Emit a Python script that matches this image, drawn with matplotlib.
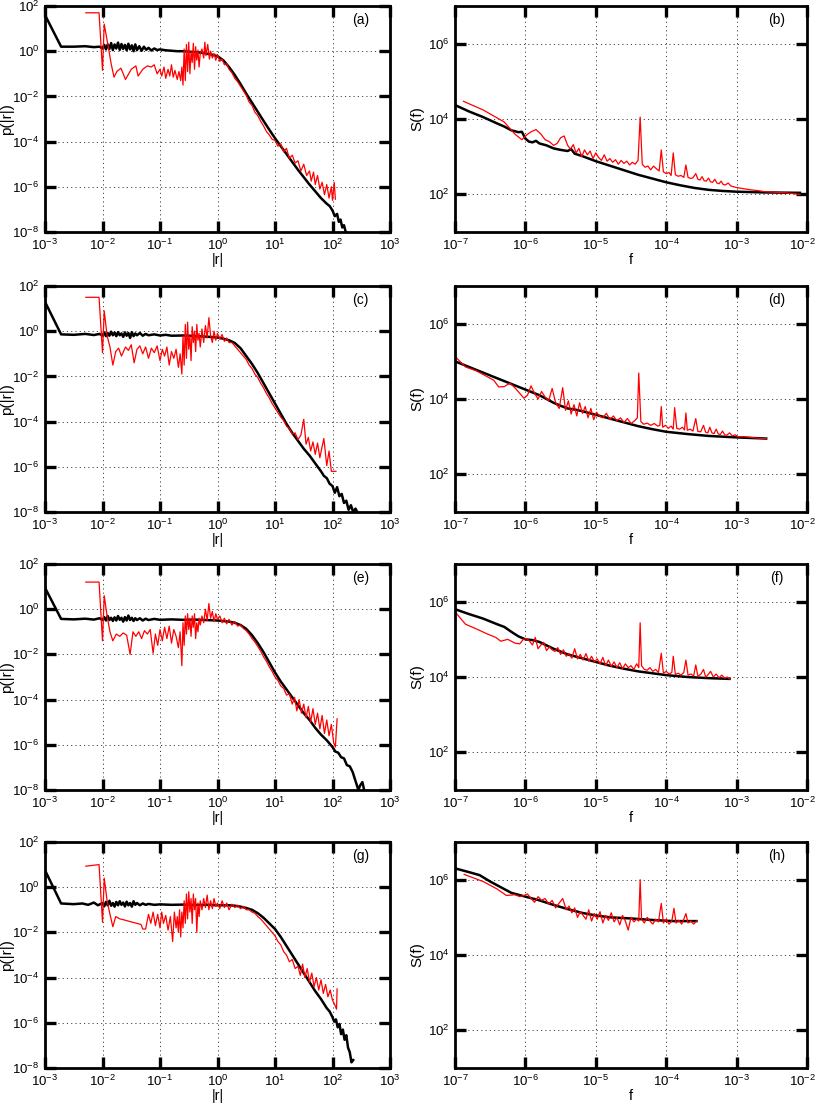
import numpy as np
import matplotlib
matplotlib.use('Agg')
import matplotlib.pyplot as plt
import matplotlib.transforms as mtransforms
from matplotlib.ticker import NullLocator, LogFormatterSciNotation

plt.rcParams['font.family'] = ['Liberation Sans', 'DejaVu Sans']
plt.rcParams['mathtext.default'] = 'regular'
plt.rcParams['font.size'] = 10

# all points are (log10 x, log10 y)

# ---- p(|r|) panels ----
a_black = [(-3.0, 1.6), (-2.72, 0.2), (-2.5, 0.2), (-2.3, 0.22), (-2.15, 0.18), (-2.05, 0.2), (-2.0, 0.12),
           (-1.97, 0.28), (-1.94, 0.08), (-1.91, 0.3), (-1.88, 0.1), (-1.85, 0.36), (-1.82, 0.05), (-1.79, 0.3),
           (-1.76, 0.12), (-1.73, 0.38), (-1.7, 0.06), (-1.67, 0.32), (-1.64, 0.1), (-1.61, 0.28), (-1.58, 0.04),
           (-1.55, 0.33), (-1.52, 0.08), (-1.49, 0.26), (-1.46, 0.0), (-1.43, 0.3), (-1.4, 0.05), (-1.36, 0.22),
           (-1.32, 0.02), (-1.28, 0.2), (-1.24, 0.06), (-1.2, 0.15), (-1.15, 0.03), (-1.1, 0.12), (-1.05, 0.05),
           (-1.0, 0.08), (-0.9, 0.04), (-0.8, 0.02), (-0.7, 0.0), (-0.6, 0.0), (-0.5, -0.02), (-0.4, -0.04),
           (-0.3, -0.06), (-0.2, -0.1), (-0.1, -0.15), (0.0, -0.22), (0.1, -0.4), (0.2, -0.7), (0.3, -1.05),
           (0.4, -1.45), (0.5, -1.88), (0.6, -2.28), (0.7, -2.68), (0.8, -3.08), (0.9, -3.47), (1.0, -3.85),
           (1.2, -4.55), (1.4, -5.25), (1.6, -5.9), (1.8, -6.5), (1.9, -6.75), (1.95, -6.85), (2.0, -7.05),
           (2.04, -7.3), (2.08, -7.2), (2.11, -7.55), (2.14, -7.45), (2.17, -7.8), (2.2, -7.7), (2.23, -8.0)]
a_red = [(-2.29, 1.7), (-2.06, 1.7), (-2.0, -0.85), (-1.97, 1.2), (-1.9, 0.2), (-1.85, -0.55), (-1.8, -1.15),
         (-1.75, -0.9), (-1.68, -0.75), (-1.6, -1.25), (-1.5, -0.8), (-1.42, -0.65), (-1.38, -1.1), (-1.3, -0.8),
         (-1.22, -0.65), (-1.15, -0.7), (-1.1, -0.6), (-1.05, -1.0), (-1.0, -0.8), (-0.97, -1.1), (-0.93, -0.7),
         (-0.9, -1.2), (-0.86, -0.8), (-0.83, -1.1), (-0.8, -0.6), (-0.77, -1.15), (-0.74, -0.85), (-0.7, -1.25),
         (-0.67, -0.9), (-0.64, -1.3), (-0.62, -0.7), (-0.6, -1.5), (-0.58, 0.1), (-0.56, -1.3), (-0.54, 0.3),
         (-0.52, -0.9), (-0.5, 0.4), (-0.48, -1.0), (-0.46, 0.0), (-0.44, -0.5), (-0.42, 0.35), (-0.4, -0.8),
         (-0.38, 0.2), (-0.36, -0.4), (-0.34, 0.05), (-0.32, -0.7), (-0.3, -0.1), (-0.27, 0.1), (-0.24, -0.3),
         (-0.22, 0.4), (-0.2, -0.2), (-0.17, 0.3), (-0.14, -0.35), (-0.12, 0.0), (-0.09, -0.3), (-0.06, -0.1),
         (-0.03, -0.4), (0.0, -0.15), (0.04, -0.45), (0.08, -0.35), (0.12, -0.6), (0.16, -0.55), (0.2, -0.8),
         (0.25, -0.95), (0.3, -1.2), (0.35, -1.35), (0.4, -1.55), (0.45, -1.75), (0.5, -1.95), (0.55, -2.25),
         (0.6, -2.4), (0.65, -2.7), (0.7, -2.85), (0.75, -3.1), (0.8, -3.3), (0.85, -3.55), (0.9, -3.7),
         (0.95, -3.9), (1.0, -3.95), (1.05, -4.2), (1.1, -4.1), (1.15, -4.45), (1.2, -4.3), (1.25, -4.75),
         (1.3, -4.6), (1.35, -4.95), (1.4, -4.85), (1.45, -5.3), (1.5, -5.0), (1.55, -5.5), (1.6, -5.3),
         (1.63, -5.75), (1.67, -5.35), (1.7, -5.9), (1.74, -5.5), (1.78, -6.1), (1.82, -5.8), (1.86, -6.35),
         (1.9, -5.9), (1.94, -6.5), (1.98, -6.0), (2.0, -6.6), (2.03, -5.8), (2.05, -6.55)]

c_black = [(-3.0, 1.3), (-2.72, -0.14), (-2.5, -0.16), (-2.3, -0.12), (-2.15, -0.17), (-2.05, -0.12), (-2.0, -0.2),
           (-1.97, -0.05), (-1.94, -0.22), (-1.91, -0.08), (-1.88, -0.2), (-1.85, -0.02), (-1.82, -0.18),
           (-1.79, -0.06), (-1.76, -0.22), (-1.73, -0.04), (-1.7, -0.18), (-1.67, -0.1), (-1.64, -0.25),
           (-1.61, -0.05), (-1.58, -0.2), (-1.55, -0.08), (-1.52, -0.3), (-1.49, -0.04), (-1.46, -0.22),
           (-1.43, -0.1), (-1.4, -0.18), (-1.35, -0.08), (-1.3, -0.2), (-1.25, -0.12), (-1.2, -0.18), (-1.1, -0.14),
           (-1.0, -0.19), (-0.9, -0.16), (-0.8, -0.2), (-0.6, -0.19), (-0.4, -0.21), (-0.2, -0.24), (0.0, -0.28),
           (0.1, -0.33), (0.2, -0.4), (0.3, -0.52), (0.4, -0.75), (0.5, -1.1), (0.6, -1.45), (0.7, -1.85),
           (0.8, -2.3), (0.9, -2.75), (1.0, -3.2), (1.1, -3.65), (1.2, -4.1), (1.3, -4.5), (1.4, -4.85),
           (1.5, -5.2), (1.6, -5.5), (1.7, -5.85), (1.8, -6.2), (1.85, -6.4), (1.9, -6.5), (1.95, -6.75),
           (2.0, -6.85), (2.04, -7.15), (2.08, -6.9), (2.12, -7.3), (2.16, -7.2), (2.2, -7.6), (2.24, -7.5),
           (2.28, -7.9), (2.32, -7.7), (2.36, -8.0), (2.4, -7.85), (2.43, -8.0)]
c_red = [(-2.29, 1.5), (-2.06, 1.5), (-2.0, -0.95), (-1.97, 0.9), (-1.92, -0.2), (-1.87, -0.7), (-1.82, -1.5),
         (-1.77, -0.9), (-1.72, -0.75), (-1.67, -1.1), (-1.6, -0.7), (-1.55, -0.85), (-1.5, -0.6), (-1.45, -1.4),
         (-1.4, -0.8), (-1.35, -0.65), (-1.3, -1.0), (-1.25, -0.7), (-1.2, -1.2), (-1.15, -0.75), (-1.1, -0.95),
         (-1.05, -0.65), (-1.0, -1.3), (-0.96, -0.8), (-0.92, -1.1), (-0.88, -0.7), (-0.84, -1.5), (-0.8, -0.9),
         (-0.76, -1.2), (-0.72, -0.8), (-0.68, -1.6), (-0.65, -1.0), (-0.62, -1.9), (-0.6, -0.2), (-0.58, -1.5),
         (-0.56, 0.3), (-0.54, -1.2), (-0.52, 0.4), (-0.5, -0.8), (-0.48, -0.2), (-0.46, -1.3), (-0.44, 0.2),
         (-0.42, -0.5), (-0.4, 0.0), (-0.38, -0.9), (-0.36, 0.3), (-0.34, -0.4), (-0.32, -0.1), (-0.3, -0.7),
         (-0.27, 0.1), (-0.24, -0.5), (-0.21, 0.25), (-0.18, -0.3), (-0.15, 0.6), (-0.12, -0.2), (-0.09, -0.5),
         (-0.06, 0.0), (-0.03, -0.4), (0.0, -0.1), (0.04, -0.35), (0.08, -0.15), (0.12, -0.45), (0.16, -0.3),
         (0.2, -0.5), (0.25, -0.5), (0.3, -0.65), (0.35, -0.8), (0.4, -0.95), (0.45, -1.1), (0.5, -1.25),
         (0.55, -1.5), (0.6, -1.65), (0.65, -1.9), (0.7, -2.05), (0.75, -2.3), (0.8, -2.5), (0.85, -2.75),
         (0.9, -2.95), (0.95, -3.2), (1.0, -3.4), (1.05, -3.6), (1.1, -3.8), (1.15, -3.95), (1.2, -4.2),
         (1.25, -4.3), (1.3, -4.55), (1.35, -4.5), (1.4, -4.8), (1.45, -4.6), (1.5, -3.9), (1.54, -5.0),
         (1.58, -4.7), (1.62, -5.3), (1.66, -4.9), (1.7, -5.45), (1.74, -4.95), (1.78, -5.6), (1.82, -5.1),
         (1.85, -4.75), (1.9, -5.95), (1.94, -5.3), (1.98, -6.2), (2.02, -6.2), (2.06, -6.2)]

e_black = [(-3.0, 0.95), (-2.72, -0.43), (-2.5, -0.45), (-2.3, -0.42), (-2.15, -0.46), (-2.05, -0.4), (-2.0, -0.48),
           (-1.97, -0.35), (-1.94, -0.5), (-1.91, -0.3), (-1.88, -0.48), (-1.85, -0.38), (-1.82, -0.52),
           (-1.79, -0.36), (-1.76, -0.5), (-1.73, -0.3), (-1.7, -0.47), (-1.67, -0.38), (-1.64, -0.55),
           (-1.61, -0.35), (-1.58, -0.5), (-1.55, -0.28), (-1.52, -0.48), (-1.49, -0.38), (-1.46, -0.52),
           (-1.43, -0.4), (-1.4, -0.48), (-1.35, -0.4), (-1.3, -0.5), (-1.25, -0.42), (-1.2, -0.48), (-1.1, -0.43),
           (-1.0, -0.47), (-0.8, -0.45), (-0.6, -0.47), (-0.4, -0.46), (-0.2, -0.48), (0.0, -0.5), (0.2, -0.55),
           (0.3, -0.6), (0.4, -0.7), (0.5, -0.87), (0.6, -1.15), (0.7, -1.5), (0.8, -1.9), (0.9, -2.35),
           (1.0, -2.8), (1.1, -3.2), (1.2, -3.55), (1.3, -3.9), (1.4, -4.25), (1.5, -4.6), (1.6, -4.9),
           (1.7, -5.25), (1.8, -5.55), (1.9, -5.8), (1.95, -5.95), (2.0, -6.1), (2.05, -6.3), (2.1, -6.35),
           (2.15, -6.55), (2.2, -6.6), (2.25, -6.9), (2.3, -6.95), (2.35, -7.2), (2.4, -7.6), (2.45, -8.0),
           (2.48, -7.8), (2.52, -7.65), (2.55, -8.0)]
e_red = [(-2.29, 1.2), (-2.06, 1.2), (-2.0, -1.4), (-1.97, 0.6), (-1.92, -0.3), (-1.87, -1.0), (-1.82, -1.4),
         (-1.76, -1.1), (-1.7, -1.2), (-1.64, -1.05), (-1.58, -1.15), (-1.52, -2.0), (-1.47, -1.0), (-1.42, -1.2),
         (-1.37, -1.0), (-1.32, -1.3), (-1.27, -0.95), (-1.22, -1.1), (-1.17, -0.9), (-1.12, -1.95),
         (-1.08, -1.1), (-1.04, -1.6), (-1.0, -0.9), (-0.96, -1.4), (-0.92, -0.8), (-0.88, -1.3), (-0.84, -0.75),
         (-0.8, -1.5), (-0.76, -0.9), (-0.72, -1.2), (-0.68, -1.7), (-0.65, -1.0), (-0.62, -2.5), (-0.6, -0.6),
         (-0.58, -1.6), (-0.56, -0.3), (-0.54, -1.1), (-0.52, -0.2), (-0.5, -0.9), (-0.48, -0.4), (-0.46, -1.2),
         (-0.44, -0.3), (-0.42, -0.8), (-0.4, -0.2), (-0.38, -1.3), (-0.36, -0.6), (-0.34, -1.0), (-0.32, -0.4),
         (-0.3, -0.7), (-0.27, -0.3), (-0.24, -0.6), (-0.21, 0.0), (-0.18, -0.5), (-0.15, 0.25), (-0.12, -0.4),
         (-0.09, -0.1), (-0.06, -0.55), (-0.03, -0.2), (0.0, -0.45), (0.04, -0.3), (0.08, -0.6), (0.12, -0.4),
         (0.16, -0.65), (0.2, -0.45), (0.25, -0.7), (0.3, -0.55), (0.35, -0.75), (0.4, -0.7), (0.45, -0.85),
         (0.5, -0.95), (0.55, -1.1), (0.6, -1.3), (0.65, -1.45), (0.7, -1.65), (0.75, -1.85), (0.8, -2.1),
         (0.85, -2.3), (0.9, -2.55), (0.95, -2.75), (1.0, -3.0), (1.05, -3.15), (1.1, -3.4), (1.15, -3.5),
         (1.2, -3.8), (1.25, -3.75), (1.3, -4.2), (1.34, -3.9), (1.38, -4.5), (1.42, -4.0), (1.46, -4.6),
         (1.5, -4.2), (1.54, -4.8), (1.58, -4.3), (1.62, -5.0), (1.66, -4.4), (1.7, -5.1), (1.74, -4.6),
         (1.78, -5.3), (1.82, -4.7), (1.86, -5.5), (1.9, -4.9), (1.94, -5.6), (1.98, -5.1), (2.02, -5.9),
         (2.05, -6.1), (2.08, -4.85)]

g_black = [(-3.0, 0.75), (-2.72, -0.72), (-2.5, -0.75), (-2.35, -0.72), (-2.25, -0.78), (-2.15, -0.68),
           (-2.08, -0.8), (-2.0, -0.7), (-1.97, -0.85), (-1.94, -0.65), (-1.91, -0.8), (-1.88, -0.6),
           (-1.85, -0.82), (-1.82, -0.7), (-1.79, -0.86), (-1.76, -0.65), (-1.73, -0.8), (-1.7, -0.62),
           (-1.67, -0.78), (-1.64, -0.68), (-1.61, -0.85), (-1.58, -0.64), (-1.55, -0.8), (-1.52, -0.7),
           (-1.49, -0.86), (-1.46, -0.62), (-1.43, -0.78), (-1.4, -0.7), (-1.35, -0.8), (-1.3, -0.72),
           (-1.25, -0.78), (-1.2, -0.74), (-1.1, -0.78), (-1.0, -0.76), (-0.8, -0.78), (-0.6, -0.77),
           (-0.4, -0.79), (-0.2, -0.78), (0.0, -0.8), (0.2, -0.8), (0.3, -0.82), (0.4, -0.86), (0.5, -0.92),
           (0.6, -1.0), (0.7, -1.15), (0.8, -1.35), (0.9, -1.6), (1.0, -1.85), (1.1, -2.2), (1.2, -2.6),
           (1.3, -3.0), (1.4, -3.4), (1.5, -3.8), (1.6, -4.2), (1.7, -4.6), (1.8, -4.95), (1.9, -5.35),
           (1.95, -5.5), (2.0, -5.75), (2.03, -5.95), (2.06, -5.85), (2.09, -6.2), (2.12, -6.05), (2.15, -6.5),
           (2.18, -6.3), (2.21, -6.75), (2.24, -6.55), (2.27, -7.1), (2.3, -7.3), (2.33, -7.75), (2.36, -7.65)]
g_red = [(-2.29, 0.93), (-2.06, 1.0), (-2.0, -1.55), (-1.97, 0.4), (-1.92, -0.6), (-1.87, -1.2), (-1.82, -1.75),
         (-1.77, -1.3), (-1.7, -1.4), (-1.62, -1.45), (-1.55, -1.5), (-1.48, -1.55), (-1.4, -1.6), (-1.33, -1.65),
         (-1.3, -1.85), (-1.25, -1.85), (-1.2, -1.2), (-1.16, -1.6), (-1.12, -1.1), (-1.08, -1.7), (-1.04, -1.2),
         (-1.0, -1.8), (-0.97, -1.1), (-0.94, -1.6), (-0.9, -1.25), (-0.86, -1.9), (-0.82, -1.3), (-0.78, -2.4),
         (-0.75, -1.1), (-0.72, -1.8), (-0.7, -1.3), (-0.68, -2.0), (-0.66, -1.0), (-0.64, -2.2), (-0.62, -1.1),
         (-0.6, -1.8), (-0.58, -0.6), (-0.56, -1.6), (-0.54, -0.3), (-0.52, -1.4), (-0.5, -0.2), (-0.48, -1.1),
         (-0.46, -0.5), (-0.44, -1.6), (-0.42, -0.3), (-0.4, -1.0), (-0.38, -0.5), (-0.36, -2.0), (-0.34, -0.7),
         (-0.32, -1.3), (-0.3, -0.6), (-0.27, -1.0), (-0.24, -0.5), (-0.21, -0.9), (-0.18, -0.35), (-0.15, -1.0),
         (-0.12, -0.6), (-0.09, -0.95), (-0.06, -0.5), (-0.03, -0.85), (0.0, -0.7), (0.04, -0.95), (0.08, -0.6),
         (0.12, -0.9), (0.16, -0.7), (0.2, -1.0), (0.25, -0.75), (0.3, -0.9), (0.35, -0.8), (0.4, -0.95),
         (0.45, -0.85), (0.5, -1.0), (0.55, -1.0), (0.6, -1.1), (0.65, -1.15), (0.7, -1.3), (0.75, -1.4),
         (0.8, -1.55), (0.85, -1.7), (0.9, -1.85), (0.95, -2.0), (1.0, -2.15), (1.05, -2.4), (1.1, -2.55),
         (1.15, -2.85), (1.2, -3.0), (1.25, -3.3), (1.3, -3.2), (1.35, -3.6), (1.4, -3.5), (1.44, -3.9),
         (1.48, -3.4), (1.52, -4.0), (1.56, -3.6), (1.6, -4.2), (1.64, -3.8), (1.68, -4.4), (1.72, -4.0),
         (1.76, -4.55), (1.8, -4.1), (1.84, -4.7), (1.88, -4.3), (1.92, -4.85), (1.96, -4.55), (2.0, -5.0),
         (2.04, -5.2), (2.07, -5.4), (2.08, -4.5)]

# ---- S(f) panels ----
b_black = [(-7.0, 4.37), (-6.8, 4.2), (-6.6, 4.05), (-6.4, 3.88), (-6.3, 3.8), (-6.2, 3.7), (-6.1, 3.65),
           (-6.05, 3.66), (-6.0, 3.48), (-5.95, 3.4), (-5.9, 3.38), (-5.85, 3.42), (-5.8, 3.35), (-5.7, 3.3),
           (-5.6, 3.22), (-5.5, 3.18), (-5.4, 3.15), (-5.35, 3.2), (-5.3, 3.08), (-5.2, 3.02), (-5.1, 2.95),
           (-5.0, 2.88), (-4.8, 2.76), (-4.6, 2.64), (-4.4, 2.52), (-4.2, 2.42), (-4.0, 2.32), (-3.8, 2.24),
           (-3.6, 2.17), (-3.4, 2.12), (-3.2, 2.09), (-3.0, 2.07), (-2.6, 2.05), (-2.1, 2.04)]
b_red = [(-6.88, 4.47), (-6.6, 4.24), (-6.3, 3.92), (-6.15, 3.6), (-6.05, 3.45), (-5.98, 3.58), (-5.92, 3.66),
         (-5.85, 3.72), (-5.78, 3.6), (-5.72, 3.45), (-5.66, 3.4), (-5.6, 3.3), (-5.55, 3.35), (-5.5, 3.5),
         (-5.45, 3.55), (-5.4, 3.3), (-5.36, 3.2), (-5.32, 3.32), (-5.28, 3.1), (-5.24, 3.22), (-5.2, 3.0),
         (-5.16, 3.18), (-5.12, 3.05), (-5.08, 3.15), (-5.04, 2.95), (-5.0, 3.1), (-4.96, 2.98), (-4.92, 2.9),
         (-4.88, 3.05), (-4.84, 2.88), (-4.8, 2.95), (-4.76, 2.85), (-4.72, 2.92), (-4.68, 2.8), (-4.64, 2.9),
         (-4.6, 2.82), (-4.56, 2.88), (-4.52, 2.78), (-4.48, 2.85), (-4.44, 2.8), (-4.4, 2.9), (-4.37, 4.05),
         (-4.34, 2.8), (-4.3, 2.72), (-4.26, 2.75), (-4.22, 2.65), (-4.18, 2.75), (-4.14, 2.68), (-4.1, 2.62),
         (-4.07, 3.18), (-4.04, 2.6), (-4.0, 2.55), (-3.96, 2.58), (-3.93, 2.5), (-3.9, 3.1), (-3.87, 2.52),
         (-3.83, 2.48), (-3.79, 2.5), (-3.75, 2.45), (-3.72, 2.78), (-3.69, 2.45), (-3.65, 2.42), (-3.62, 2.44),
         (-3.58, 2.55), (-3.55, 2.4), (-3.52, 2.38), (-3.49, 2.47), (-3.46, 2.36), (-3.43, 2.35), (-3.4, 2.43),
         (-3.37, 2.33), (-3.34, 2.32), (-3.31, 2.4), (-3.28, 2.3), (-3.25, 2.28), (-3.22, 2.35), (-3.19, 2.26),
         (-3.16, 2.25), (-3.12, 2.3), (-3.08, 2.22), (-3.04, 2.2), (-3.0, 2.18), (-2.9, 2.15), (-2.8, 2.12),
         (-2.7, 2.1), (-2.6, 2.07), (-2.5, 2.06), (-2.4, 2.05), (-2.3, 2.04), (-2.2, 2.02), (-2.1, 2.0)]

d_black = [(-7.0, 5.0), (-6.8, 4.85), (-6.6, 4.7), (-6.4, 4.55), (-6.2, 4.4), (-6.0, 4.25), (-5.8, 4.1),
           (-5.6, 3.9), (-5.5, 3.82), (-5.4, 3.75), (-5.3, 3.72), (-5.2, 3.68), (-5.0, 3.58), (-4.8, 3.48),
           (-4.6, 3.38), (-4.4, 3.28), (-4.2, 3.2), (-4.0, 3.13), (-3.7, 3.07), (-3.4, 3.02), (-3.0, 2.98),
           (-2.58, 2.95)]
d_red = [(-7.0, 5.13), (-6.85, 4.85), (-6.7, 4.75), (-6.55, 4.6), (-6.45, 4.5), (-6.38, 4.32), (-6.3, 4.33),
         (-6.22, 4.42), (-6.15, 4.3), (-6.08, 4.15), (-6.02, 4.02), (-5.97, 4.1), (-5.92, 4.35), (-5.87, 4.15),
         (-5.82, 4.0), (-5.77, 4.2), (-5.72, 4.05), (-5.67, 3.95), (-5.62, 4.28), (-5.57, 3.9), (-5.52, 3.75),
         (-5.47, 4.3), (-5.43, 3.7), (-5.39, 3.95), (-5.35, 3.6), (-5.31, 3.85), (-5.27, 3.55), (-5.23, 3.9),
         (-5.19, 3.62), (-5.15, 3.8), (-5.11, 3.5), (-5.07, 3.75), (-5.03, 3.45), (-4.99, 3.65), (-4.95, 3.55),
         (-4.9, 3.5), (-4.85, 3.62), (-4.8, 3.45), (-4.75, 3.55), (-4.7, 3.42), (-4.65, 3.5), (-4.6, 3.38),
         (-4.55, 3.48), (-4.5, 3.35), (-4.45, 3.42), (-4.41, 3.5), (-4.39, 4.69), (-4.36, 3.4), (-4.32, 3.33),
         (-4.27, 3.36), (-4.22, 3.3), (-4.17, 3.35), (-4.12, 3.28), (-4.09, 3.3), (-4.07, 3.8), (-4.05, 3.25),
         (-4.01, 3.3), (-3.97, 3.22), (-3.93, 3.28), (-3.9, 3.2), (-3.88, 3.77), (-3.85, 3.22), (-3.81, 3.2),
         (-3.77, 3.25), (-3.74, 3.18), (-3.72, 3.63), (-3.7, 3.17), (-3.66, 3.2), (-3.62, 3.15), (-3.58, 3.48),
         (-3.55, 3.14), (-3.51, 3.13), (-3.47, 3.3), (-3.44, 3.12), (-3.41, 3.1), (-3.38, 3.25), (-3.35, 3.1),
         (-3.32, 3.08), (-3.29, 3.2), (-3.26, 3.07), (-3.23, 3.06), (-3.2, 3.15), (-3.17, 3.05), (-3.14, 3.04),
         (-3.1, 3.1), (-3.06, 3.02), (-3.02, 3.05), (-2.98, 3.0), (-2.9, 3.0), (-2.8, 2.98), (-2.7, 2.96),
         (-2.58, 2.95)]

f_black = [(-7.0, 5.8), (-6.8, 5.67), (-6.6, 5.55), (-6.4, 5.4), (-6.3, 5.33), (-6.2, 5.2), (-6.1, 5.08),
           (-6.0, 5.0), (-5.9, 4.98), (-5.8, 4.93), (-5.6, 4.75), (-5.4, 4.6), (-5.2, 4.5), (-5.0, 4.4),
           (-4.8, 4.3), (-4.6, 4.22), (-4.4, 4.15), (-4.2, 4.1), (-4.0, 4.05), (-3.7, 4.0), (-3.4, 3.97),
           (-3.1, 3.95)]
f_red = [(-7.0, 5.73), (-6.85, 5.4), (-6.7, 5.28), (-6.55, 5.15), (-6.42, 5.05), (-6.35, 4.95), (-6.25, 5.0),
         (-6.15, 4.9), (-6.08, 4.88), (-6.03, 5.0), (-5.98, 5.02), (-5.94, 4.95), (-5.9, 4.85), (-5.86, 5.05),
         (-5.82, 4.75), (-5.78, 4.85), (-5.74, 4.92), (-5.7, 4.7), (-5.66, 4.8), (-5.62, 4.72), (-5.58, 4.68),
         (-5.54, 4.78), (-5.5, 4.6), (-5.46, 4.72), (-5.42, 4.55), (-5.38, 4.62), (-5.34, 4.5), (-5.3, 4.75),
         (-5.26, 4.48), (-5.22, 4.6), (-5.18, 4.45), (-5.14, 4.62), (-5.1, 4.42), (-5.06, 4.55), (-5.02, 4.4),
         (-4.98, 4.48), (-4.94, 4.35), (-4.9, 4.52), (-4.86, 4.3), (-4.82, 4.45), (-4.78, 4.28), (-4.74, 4.4),
         (-4.7, 4.25), (-4.66, 4.38), (-4.62, 4.22), (-4.58, 4.35), (-4.54, 4.25), (-4.5, 4.3), (-4.46, 4.2),
         (-4.42, 4.35), (-4.39, 4.25), (-4.37, 5.44), (-4.35, 4.3), (-4.31, 4.2), (-4.27, 4.18), (-4.23, 4.25),
         (-4.19, 4.15), (-4.15, 4.2), (-4.11, 4.12), (-4.07, 4.63), (-4.04, 4.1), (-4.0, 4.15), (-3.96, 4.08),
         (-3.92, 4.12), (-3.9, 4.55), (-3.87, 4.07), (-3.83, 4.1), (-3.79, 4.05), (-3.75, 4.12), (-3.72, 4.45),
         (-3.69, 4.05), (-3.65, 4.08), (-3.61, 4.03), (-3.58, 4.32), (-3.55, 4.02), (-3.51, 4.07), (-3.47, 4.2),
         (-3.44, 4.0), (-3.41, 4.05), (-3.37, 4.15), (-3.33, 4.0), (-3.29, 4.08), (-3.25, 3.98), (-3.21, 4.05),
         (-3.17, 3.97), (-3.13, 4.0), (-3.1, 3.95)]

h_black = [(-7.0, 6.3), (-6.8, 6.2), (-6.65, 6.12), (-6.5, 5.95), (-6.35, 5.8), (-6.2, 5.65), (-6.1, 5.6),
           (-6.0, 5.55), (-5.8, 5.45), (-5.6, 5.33), (-5.4, 5.22), (-5.2, 5.12), (-5.0, 5.05), (-4.8, 5.0),
           (-4.5, 4.97), (-4.2, 4.93), (-3.9, 4.9), (-3.57, 4.9)]
h_red = [(-6.87, 6.14), (-6.6, 5.95), (-6.4, 5.75), (-6.27, 5.58), (-6.15, 5.6), (-6.08, 5.55), (-6.02, 5.58),
         (-5.97, 5.62), (-5.92, 5.5), (-5.87, 5.4), (-5.82, 5.55), (-5.77, 5.45), (-5.72, 5.5), (-5.67, 5.35),
         (-5.62, 5.45), (-5.57, 5.25), (-5.52, 5.38), (-5.47, 5.5), (-5.42, 5.2), (-5.38, 5.3), (-5.34, 5.12),
         (-5.3, 5.25), (-5.26, 5.0), (-5.22, 5.15), (-5.18, 5.05), (-5.14, 4.95), (-5.1, 5.2), (-5.06, 4.9),
         (-5.02, 5.1), (-4.98, 4.95), (-4.94, 5.15), (-4.9, 4.85), (-4.86, 5.05), (-4.82, 4.92), (-4.78, 5.12),
         (-4.74, 4.88), (-4.7, 5.0), (-4.66, 4.8), (-4.62, 5.05), (-4.58, 4.9), (-4.54, 4.66), (-4.5, 5.0),
         (-4.46, 4.88), (-4.42, 4.95), (-4.39, 4.9), (-4.37, 6.0), (-4.35, 4.95), (-4.31, 4.85), (-4.27, 5.0),
         (-4.23, 4.9), (-4.19, 4.82), (-4.15, 4.95), (-4.11, 4.88), (-4.07, 5.37), (-4.04, 4.85), (-4.0, 4.95),
         (-3.96, 4.82), (-3.92, 4.9), (-3.89, 5.24), (-3.86, 4.85), (-3.82, 4.92), (-3.78, 4.82), (-3.75, 4.95),
         (-3.72, 5.1), (-3.69, 4.85), (-3.65, 4.9), (-3.61, 4.82), (-3.57, 4.9)]

left_panels = [('(a)', a_black, a_red), ('(c)', c_black, c_red), ('(e)', e_black, e_red), ('(g)', g_black, g_red)]
right_panels = [('(b)', b_black, b_red), ('(d)', d_black, d_red), ('(f)', f_black, f_red), ('(h)', h_black, h_red)]

r_ticks = [1e-3, 1e-2, 1e-1, 1e0, 1e1, 1e2, 1e3]
p_ticks = [1e-8, 1e-6, 1e-4, 1e-2, 1e0, 1e2]
f_ticks = [1e-7, 1e-6, 1e-5, 1e-4, 1e-3, 1e-2]
s_ticks = [1e2, 1e4, 1e6]


def to_xy(pts):
    arr = 10.0 ** np.array(pts)
    return arr[:, 0], arr[:, 1]


def setup(ax, xlim, ylim, xt, yt, xlabel, ylabel, tag, ylab_x):
    ax.set_xscale('log')
    ax.set_yscale('log')
    ax.set_xlim(xlim)
    ax.set_ylim(ylim)
    ax.set_xticks(xt)
    ax.set_yticks(yt)
    ax.xaxis.set_minor_locator(NullLocator())
    ax.yaxis.set_minor_locator(NullLocator())
    ax.xaxis.set_major_formatter(LogFormatterSciNotation())
    ax.yaxis.set_major_formatter(LogFormatterSciNotation())
    ax.tick_params(which='major', direction='in', length=8, width=2.4,
                   top=True, right=True, labelsize=9.5)
    ax.tick_params(axis='x', pad=4.5)
    ax.tick_params(axis='y', pad=4)
    ax.grid(True, ls=(0, (1.2, 3.2)), lw=0.7, color='#444444')
    for s in ax.spines.values():
        s.set_linewidth(2)
    ax.set_xlabel(xlabel, labelpad=0, fontsize=10.5)
    ax.set_ylabel(ylabel, fontsize=11)
    # ylabel anchored by hand so it stays inside the figure
    ax.yaxis.set_label_coords(ylab_x, 0.5)
    ax.text(0.915, 0.94, tag, transform=ax.transAxes, ha='center', va='center', fontsize=10)


W, H = 817, 1105
fig = plt.figure(figsize=(W / 100, H / 100), dpi=100)
row_tops = [6, 286, 564, 842]
ph = 226

for i, top in enumerate(row_tops):
    bottom = 1 - (top + ph) / H
    axl = fig.add_axes([45 / W, bottom, 345 / W, ph / H])
    tag, blk, red = left_panels[i]
    x, y = to_xy(blk)
    axl.plot(x, y, color='black', lw=1.8)
    x, y = to_xy(red)
    axl.plot(x, y, color='red', lw=0.9)
    setup(axl, (1e-3, 1e3), (1e-8, 1e2), r_ticks, p_ticks, '|r|', 'p(|r|)', tag, -31 / 345)

    axr = fig.add_axes([455 / W, bottom, 352 / W, ph / H])
    tag, blk, red = right_panels[i]
    x, y = to_xy(blk)
    axr.plot(x, y, color='black', lw=1.8)
    x, y = to_xy(red)
    axr.plot(x, y, color='red', lw=0.9)
    setup(axr, (1e-7, 1e-2), (1e1, 1e7), f_ticks, s_ticks, 'f', 'S(f)', tag, -31 / 352)

    # keep the last f tick label inside the figure, as in the reference
    fig.canvas.draw()
    last = axr.get_xticklabels()[-1]
    last.set_horizontalalignment('right')
    last.set_transform(last.get_transform() +
                       mtransforms.ScaledTranslation(9 / 100, 0, fig.dpi_scale_trans))

fig.savefig('out.png', dpi=100)
